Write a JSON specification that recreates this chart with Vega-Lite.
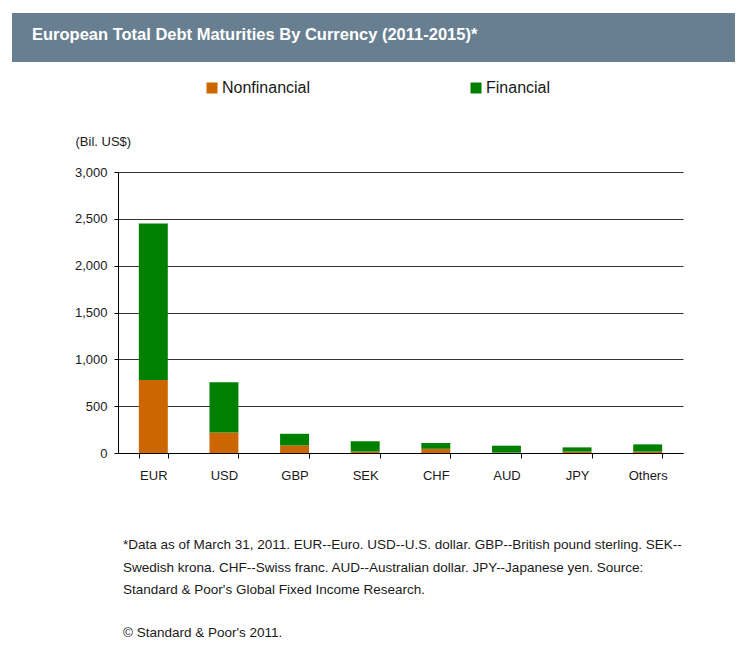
{
  "$schema": "https://vega.github.io/schema/vega-lite/v6.json",
  "background": "white",
  "padding": {"left": 12, "top": 13, "right": 0, "bottom": 0},
  "bounds": "flush",
  "spacing": 110,
  "config": {
    "view": {"stroke": null},
    "font": "Liberation Sans",
    "axis": {"labelFont": "Liberation Sans", "titleFont": "Liberation Sans", "labelColor": "#1a1a1a", "titleColor": "#1a1a1a"},
    "legend": {"labelFont": "Liberation Sans"}
  },
  "vconcat": [
    {
      "width": 723,
      "height": 49,
      "view": {"fill": "#687f91", "stroke": null},
      "title": {
        "text": "European Total Debt Maturities By Currency (2011-2015)*",
        "orient": "top",
        "anchor": "start",
        "frame": "group",
        "offset": -43,
        "dx": 20,
        "baseline": "alphabetic",
        "color": "white",
        "font": "Liberation Sans",
        "fontSize": 16.5,
        "fontWeight": "bold"
      },
      "data": {"values": []},
      "mark": "rect",
      "encoding": {}
    },
    {
      "bounds": "flush",
      "spacing": 105,
      "data": {
        "values": [
          {"currency": "EUR", "type": "Nonfinancial", "value": 780},
          {"currency": "EUR", "type": "Financial", "value": 1670},
          {"currency": "USD", "type": "Nonfinancial", "value": 220},
          {"currency": "USD", "type": "Financial", "value": 535},
          {"currency": "GBP", "type": "Nonfinancial", "value": 80},
          {"currency": "GBP", "type": "Financial", "value": 125},
          {"currency": "SEK", "type": "Nonfinancial", "value": 15},
          {"currency": "SEK", "type": "Financial", "value": 110},
          {"currency": "CHF", "type": "Nonfinancial", "value": 45},
          {"currency": "CHF", "type": "Financial", "value": 62},
          {"currency": "AUD", "type": "Nonfinancial", "value": 5},
          {"currency": "AUD", "type": "Financial", "value": 73},
          {"currency": "JPY", "type": "Nonfinancial", "value": 15},
          {"currency": "JPY", "type": "Financial", "value": 45},
          {"currency": "Others", "type": "Nonfinancial", "value": 15},
          {"currency": "Others", "type": "Financial", "value": 77}
        ]
      },
      "hconcat": [
        {
          "width": 1,
          "height": 281,
          "data": {"values": []},
          "mark": "rect",
          "encoding": {}
        },
        {
          "width": 565,
          "height": 281,
          "title": {
            "text": [
              "*Data as of March 31, 2011. EUR--Euro. USD--U.S. dollar. GBP--British pound sterling. SEK--",
              "Swedish krona. CHF--Swiss franc. AUD--Australian dollar. JPY--Japanese yen. Source:",
              "Standard & Poor's Global Fixed Income Research."
            ],
            "subtitle": "© Standard & Poor's 2011.",
            "orient": "bottom",
            "anchor": "start",
            "frame": "group",
            "offset": 56,
            "dx": 5,
            "baseline": "top",
            "font": "Liberation Sans",
            "fontSize": 13.5,
            "fontWeight": "normal",
            "lineHeight": 22.5,
            "color": "#1a1a1a",
            "subtitleFont": "Liberation Sans",
            "subtitleFontSize": 13.5,
            "subtitleColor": "#1a1a1a",
            "subtitleLineHeight": 22.5,
            "subtitlePadding": 29
          },
          "mark": {"type": "bar"},
          "encoding": {
            "x": {
              "field": "currency",
              "type": "nominal",
              "sort": ["EUR", "USD", "GBP", "SEK", "CHF", "AUD", "JPY", "Others"],
              "scale": {"paddingInner": 0.59, "paddingOuter": 0.295},
              "axis": {
                "title": null,
                "labelAngle": 0,
                "labelFontSize": 13,
                "labelPadding": 11,
                "tickSize": 5,
                "tickBand": "extent",
                "tickColor": "black",
                "domainColor": "black",
                "grid": false
              }
            },
            "y": {
              "field": "value",
              "type": "quantitative",
              "stack": "zero",
              "scale": {"domain": [0, 3000], "nice": false},
              "axis": {
                "title": "(Bil. US$)",
                "titleAngle": 0,
                "titleX": -43,
                "titleY": -31,
                "titleAlign": "left",
                "titleBaseline": "middle",
                "titleFontSize": 13,
                "titleFontWeight": "normal",
                "values": [0, 500, 1000, 1500, 2000, 2500, 3000],
                "format": ",.0f",
                "labelFontSize": 13,
                "labelPadding": 7,
                "tickSize": 4,
                "tickColor": "black",
                "domainColor": "black",
                "grid": true,
                "gridColor": "#333333",
                "gridWidth": 1
              }
            },
            "color": {
              "field": "type",
              "type": "nominal",
              "scale": {"domain": ["Nonfinancial", "Financial"], "range": ["#cc6600", "#008000"]},
              "legend": {
                "title": null,
                "orient": "none",
                "direction": "horizontal",
                "legendX": 192,
                "legendY": 67,
                "padding": 0,
                "symbolType": "square",
                "symbolSize": 121,
                "symbolStrokeWidth": 0,
                "labelFontSize": 16,
                "labelColor": "#1a1a1a",
                "labelOffset": 2,
                "columnPadding": 157
              }
            },
            "order": {"field": "type", "sort": "descending"}
          }
        }
      ]
    }
  ]
}
